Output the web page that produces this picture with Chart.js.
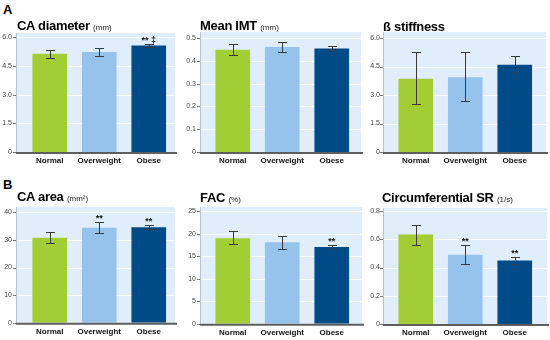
<!DOCTYPE html>
<html>
<head>
<meta charset="utf-8">
<script src="https://cdn.jsdelivr.net/npm/chart.js@4"></script>
<style>
  html, body { margin:0; padding:0; background:#fff; }
  body { width:550px; height:340px; position:relative; overflow:hidden; font-family:"Liberation Sans", Arial, sans-serif; }
  canvas { position:absolute; z-index:1; }
  .lbl { position:absolute; z-index:2; font-weight:bold; font-size:13px; line-height:13px; color:#000; white-space:nowrap; letter-spacing:-0.3px; }
  .ttl { position:absolute; z-index:2; font-weight:bold; font-size:13px; line-height:13px; color:#000; white-space:nowrap; letter-spacing:-0.3px; }
  .ttl .u { font-weight:normal; font-size:8px; letter-spacing:0; color:#222; }
</style>
</head>
<body>
<div class="lbl" style="left:3px;top:3px;">A</div>
<div class="lbl" style="left:3px;top:178px;">B</div>
<div class="ttl" style="left:17px;top:19px;">CA diameter <span class="u">(mm)</span></div>
<div class="ttl" style="left:200px;top:19px;">Mean IMT <span class="u">(mm)</span></div>
<div class="ttl" style="left:383px;top:20px;">ß stiffness</div>
<div class="ttl" style="left:17px;top:190px;">CA area <span class="u">(mm²)</span></div>
<div class="ttl" style="left:200px;top:191px;">FAC <span class="u">(%)</span></div>
<div class="ttl" style="left:382px;top:191px;">Circumferential SR <span class="u">(1/s)</span></div>

<canvas id="c1" width="180" height="150" style="left:0px;top:20px;"></canvas>
<canvas id="c2" width="182" height="150" style="left:182px;top:20px;"></canvas>
<canvas id="c3" width="184" height="150" style="left:366px;top:20px;"></canvas>
<canvas id="c4" width="180" height="145" style="left:0px;top:195px;"></canvas>
<canvas id="c5" width="182" height="145" style="left:182px;top:195px;"></canvas>
<canvas id="c6" width="184" height="145" style="left:366px;top:195px;"></canvas>

<script>
// ---------- DATA ----------
const categories = ["Normal", "Overweight", "Obese"];

const caDiameter    = [5.13, 5.23, 5.57];
const caDiameterLo  = [4.92, 5.04, 5.48];
const caDiameterHi  = [5.34, 5.43, 5.65];
const caDiameterAnn = ["", "", "** \u2021"];
const caDiameterTicks = [0, 1.5, 3.0, 4.5, 6.0];
const caDiameterTickLabels = ["0", "1.5", "3.0", "4.5", "6.0"];

const meanIMT    = [0.449, 0.460, 0.454];
const meanIMTLo  = [0.425, 0.437, 0.446];
const meanIMTHi  = [0.475, 0.484, 0.463];
const meanIMTAnn = ["", "", ""];
const meanIMTTicks = [0, 0.1, 0.2, 0.3, 0.4, 0.5];
const meanIMTTickLabels = ["0", "0.1", "0.2", "0.3", "0.4", "0.5"];

const betaStiff    = [3.86, 3.94, 4.59];
const betaStiffLo  = [2.54, 2.70, 4.16];
const betaStiffHi  = [5.24, 5.24, 5.06];
const betaStiffAnn = ["", "", ""];
const betaStiffTicks = [0, 1.5, 3.0, 4.5, 6.0];
const betaStiffTickLabels = ["0", "1.5", "3.0", "4.5", "6.0"];

const caArea    = [30.8, 34.4, 34.6];
const caAreaLo  = [29.0, 32.6, 33.9];
const caAreaHi  = [32.9, 36.4, 35.3];
const caAreaAnn = ["", "**", "**"];
const caAreaTicks = [0, 10, 20, 30, 40];
const caAreaTickLabels = ["0", "10", "20", "30", "40"];

const facVals  = [19.0, 18.1, 17.06];
const facLo    = [17.8, 16.7, 16.5];
const facHi    = [20.6, 19.5, 17.5];
const facAnn   = ["", "", "**"];
const facTicks = [0, 5, 10, 15, 20, 25];
const facTickLabels = ["0", "5", "10", "15", "20", "25"];

const circSR    = [0.633, 0.490, 0.449];
const circSRLo  = [0.562, 0.426, 0.426];
const circSRHi  = [0.700, 0.557, 0.473];
const circSRAnn = ["", "**", "**"];
const circSRTicks = [0, 0.2, 0.4, 0.6, 0.8];
const circSRTickLabels = ["0", "0.2", "0.4", "0.6", "0.8"];

// ---------- STYLE / LAYOUT ----------
const barColors = ["#a2cd34", "#95c3ec", "#004b87"];
const FONT = '"Liberation Sans", Arial, sans-serif';

// page-coordinate layout for each panel
const panels = [
  { id:"c1", vals:caDiameter, lo:caDiameterLo, hi:caDiameterHi, ann:caDiameterAnn, ticks:caDiameterTicks, tl:caDiameterTickLabels,
    cx:0, cy:20, w:180, h:150, L:25, R:173.5, T:37, B:152, bgL:16, bgR:175, bgT:33, pad:13 },
  { id:"c2", vals:meanIMT, lo:meanIMTLo, hi:meanIMTHi, ann:meanIMTAnn, ticks:meanIMTTicks, tl:meanIMTTickLabels,
    cx:182, cy:20, w:182, h:150, L:208, R:356.5, T:38, B:152, bgL:200, bgR:361, bgT:32, pad:12 },
  { id:"c3", vals:betaStiff, lo:betaStiffLo, hi:betaStiffHi, ann:betaStiffAnn, ticks:betaStiffTicks, tl:betaStiffTickLabels,
    cx:366, cy:20, w:184, h:150, L:391, R:539.5, T:38, B:152, bgL:383, bgR:546, bgT:32, pad:11 },
  { id:"c4", vals:caArea, lo:caAreaLo, hi:caAreaHi, ann:caAreaAnn, ticks:caAreaTicks, tl:caAreaTickLabels,
    cx:0, cy:195, w:180, h:145, L:25, R:173.5, T:210, B:324, bgL:16, bgR:175, bgT:207, pad:13 },
  { id:"c5", vals:facVals, lo:facLo, hi:facHi, ann:facAnn, ticks:facTicks, tl:facTickLabels,
    cx:182, cy:195, w:182, h:145, L:208, R:356.5, T:211, B:324, bgL:200, bgR:362, bgT:207, pad:12 },
  { id:"c6", vals:circSR, lo:circSRLo, hi:circSRHi, ann:circSRAnn, ticks:circSRTicks, tl:circSRTickLabels,
    cx:366, cy:195, w:184, h:145, L:391, R:539.5, T:211, B:324, bgL:383, bgR:547, bgT:208, pad:11 },
];

function makeChart(p) {
  const deco = {
    id: "deco",
    beforeDatasetsDraw(chart) {
      const ctx = chart.ctx, ys = chart.scales.y, ca = chart.chartArea;
      const bl = p.bgL - p.cx, br = p.bgR - p.cx, bt = p.bgT - p.cy;
      ctx.save();
      ctx.fillStyle = "#e0eefb";
      ctx.fillRect(bl, bt, br - bl, ca.bottom - bt);
      // white grid lines
      ctx.strokeStyle = "rgba(255,255,255,0.9)";
      ctx.lineWidth = 1;
      p.ticks.forEach(v => {
        if (v === 0) return;
        const y = Math.round(ys.getPixelForValue(v)) + 0.5;
        ctx.beginPath(); ctx.moveTo(bl, y); ctx.lineTo(br, y); ctx.stroke();
      });
      // left axis faint line & tick dashes
      ctx.strokeStyle = "#b9c3cc";
      ctx.beginPath(); ctx.moveTo(bl + 0.5, bt); ctx.lineTo(bl + 0.5, ca.bottom); ctx.stroke();
      ctx.strokeStyle = "#777";
      p.ticks.forEach(v => {
        const y = Math.round(ys.getPixelForValue(v)) + 0.5;
        ctx.beginPath(); ctx.moveTo(bl - 3, y); ctx.lineTo(bl, y); ctx.stroke();
      });
      ctx.restore();
    },
    afterDatasetsDraw(chart) {
      const ctx = chart.ctx, ys = chart.scales.y, ca = chart.chartArea;
      const meta = chart.getDatasetMeta(0);
      ctx.save();
      // error bars
      ctx.strokeStyle = "#3a3a3a";
      ctx.lineWidth = 1;
      meta.data.forEach((bar, i) => {
        const x = Math.round(bar.x) + 0.5;
        const yH = Math.round(ys.getPixelForValue(p.hi[i])) + 0.5;
        const yL = Math.round(ys.getPixelForValue(p.lo[i])) + 0.5;
        ctx.beginPath();
        ctx.moveTo(x, yH); ctx.lineTo(x, yL);
        ctx.moveTo(x - 4.5, yH); ctx.lineTo(x + 4.5, yH);
        ctx.moveTo(x - 4.5, yL); ctx.lineTo(x + 4.5, yL);
        ctx.stroke();
        if (p.ann[i]) {
          ctx.fillStyle = "#111";
          ctx.font = "bold 9px " + FONT;
          ctx.textAlign = "center";
          ctx.textBaseline = "alphabetic";
          ctx.fillText(p.ann[i], bar.x, yH - 2);
        }
      });
      // bottom axis line
      ctx.strokeStyle = "#5e5e5e";
      ctx.lineWidth = 2;
      ctx.beginPath();
      ctx.moveTo(p.bgL - p.cx, ca.bottom + 1);
      ctx.lineTo(p.bgR - p.cx + 2, ca.bottom + 1);
      ctx.stroke();
      ctx.restore();
    }
  };

  return new Chart(document.getElementById(p.id), {
    type: "bar",
    data: {
      labels: categories,
      datasets: [{
        data: p.vals,
        backgroundColor: barColors,
        borderWidth: 0,
        barPercentage: 0.7,
        categoryPercentage: 1.0
      }]
    },
    options: {
      responsive: false,
      animation: false,
      devicePixelRatio: 1,
      layout: { padding: { left: 0, right: p.cx + p.w - p.R, top: p.T - p.cy, bottom: 0 } },
      plugins: { legend: { display: false }, tooltip: { enabled: false }, title: { display: false } },
      scales: {
        x: {
          grid: { display: false, drawTicks: false },
          border: { display: false },
          ticks: { color: "#111", font: { family: FONT, size: 8, weight: "bold" }, padding: 4, maxRotation: 0, autoSkip: false },
          afterFit(s) { s.height = p.cy + p.h - p.B; }
        },
        y: {
          min: p.ticks[0],
          max: p.ticks[p.ticks.length - 1],
          grid: { display: false, drawTicks: false },
          border: { display: false },
          afterBuildTicks(s) { s.ticks = p.ticks.map(v => ({ value: v })); },
          ticks: {
            color: "#444",
            font: { family: FONT, size: 7 },
            padding: p.pad,
            callback: (v) => { const k = p.ticks.indexOf(v); return k >= 0 ? p.tl[k] : ""; }
          },
          afterFit(s) { s.width = p.L - p.cx; }
        }
      }
    },
    plugins: [deco]
  });
}

panels.forEach(makeChart);
</script>
</body>
</html>
